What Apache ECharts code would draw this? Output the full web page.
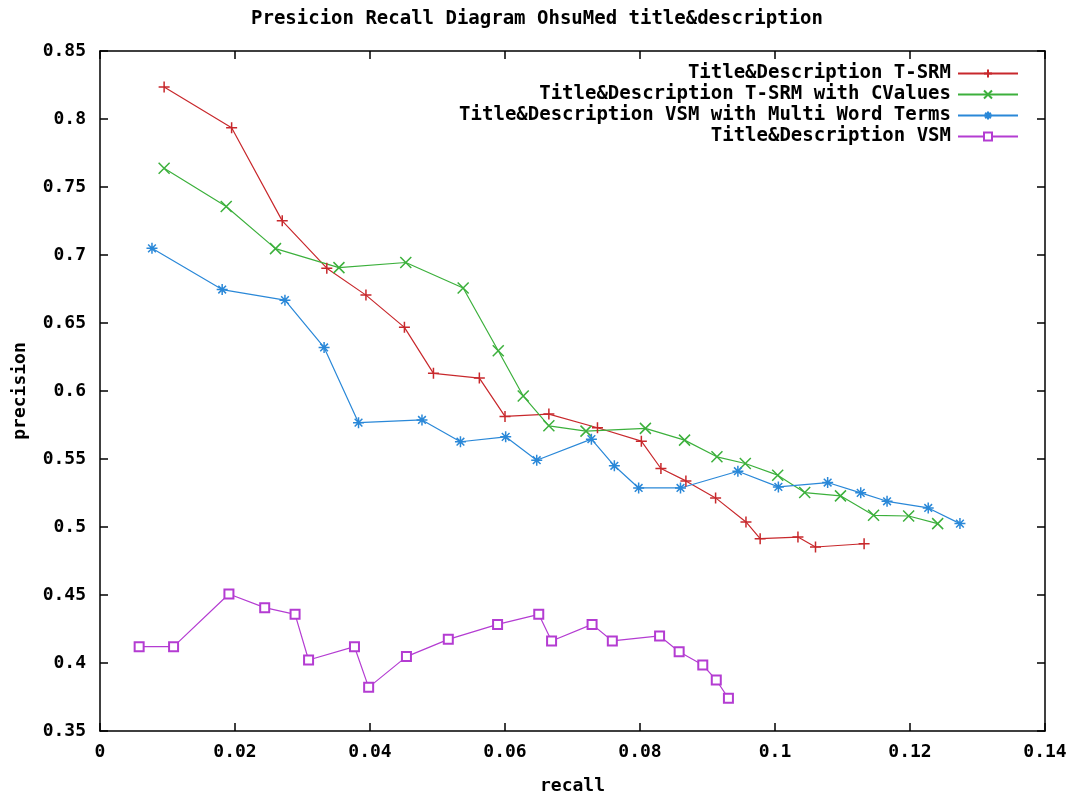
<!DOCTYPE html>
<html>
<head>
<meta charset="utf-8">
<script src="https://cdn.jsdelivr.net/npm/echarts@6/dist/echarts.min.js"></script>
<style>
  html, body { margin: 0; padding: 0; background: #fff; }
  #chart { width: 1074px; height: 801px; }
</style>
</head>
<body>
<div id="chart"></div>
<script>
const titleText = 'Presicion Recall Diagram OhsuMed title&description';
const seriesNames = [
  'Title&Description T-SRM',
  'Title&Description T-SRM with CValues',
  'Title&Description VSM with Multi Word Terms',
  'Title&Description VSM'
];

// [recall, precision]
const tsrm = [
  [0.0095, 0.8236], [0.0195, 0.7936], [0.027, 0.7251], [0.0336, 0.6903],
  [0.0394, 0.6705], [0.0451, 0.6468], [0.0494, 0.613], [0.0562, 0.6095],
  [0.060, 0.5813], [0.0665, 0.583], [0.0737, 0.573], [0.0802, 0.5631],
  [0.0831, 0.543], [0.0868, 0.5339], [0.0912, 0.5214], [0.0957, 0.5037],
  [0.0978, 0.4914], [0.1034, 0.4926], [0.106, 0.4853], [0.1132, 0.4877]
];
const tsrmCValues = [
  [0.0095, 0.7638], [0.0187, 0.7357], [0.026, 0.7047], [0.0354, 0.6907],
  [0.0453, 0.6945], [0.0538, 0.6757], [0.059, 0.6296], [0.0627, 0.5963],
  [0.0665, 0.5744], [0.072, 0.5705], [0.0808, 0.5725], [0.0866, 0.5639],
  [0.0914, 0.5516], [0.0956, 0.5467], [0.1004, 0.5381], [0.1044, 0.5253],
  [0.1097, 0.5229], [0.1146, 0.5086], [0.1198, 0.5081], [0.1241, 0.5025]
];
const vsmMultiWord = [
  [0.0077, 0.7049], [0.0181, 0.6746], [0.0274, 0.6668], [0.0332, 0.632],
  [0.0383, 0.5767], [0.0477, 0.5787], [0.0534, 0.5627], [0.0601, 0.5663],
  [0.0647, 0.5491], [0.0728, 0.5646], [0.0762, 0.545], [0.0798, 0.5287],
  [0.086, 0.5287], [0.0945, 0.541], [0.1005, 0.5295], [0.1078, 0.5327],
  [0.1127, 0.5251], [0.1166, 0.5189], [0.1227, 0.514], [0.1274, 0.5025]
];
const vsm = [
  [0.0058, 0.412], [0.0109, 0.412], [0.0191, 0.4507], [0.0244, 0.4407],
  [0.0289, 0.4358], [0.0309, 0.4022], [0.0377, 0.412], [0.0398, 0.3821],
  [0.0454, 0.4047], [0.0516, 0.4174], [0.0589, 0.4284], [0.065, 0.4358],
  [0.0669, 0.4162], [0.0729, 0.4284], [0.0759, 0.4162], [0.0829, 0.4199],
  [0.0858, 0.4083], [0.0893, 0.3985], [0.0913, 0.3875], [0.0931, 0.374]
];

const colors = ['#c8282c', '#3cb03c', '#2a88d8', '#b43cd2'];
const symbols = [
  'path://M5 0L5 10M0 5L10 5',
  'path://M0 0L10 10M10 0L0 10',
  'path://M5 0L5 10M0 5L10 5M1.5 1.5L8.5 8.5M8.5 1.5L1.5 8.5',
  'emptyRect'
];
const allData = [tsrm, tsrmCValues, vsmMultiWord, vsm];

const font = 'DejaVu Sans Mono';
const axisText = () => ({ color: '#000', fontFamily: font, fontWeight: 'bold', fontSize: 18 });

const chart = echarts.init(document.getElementById('chart'));

const series = allData.map((d, i) => ({
  name: seriesNames[i],
  type: 'line',
  data: d,
  symbol: symbols[i],
  symbolSize: i === 3 ? 9 : 11,
  showSymbol: true,
  lineStyle: { color: colors[i], width: 1.2 },
  itemStyle: i === 3
    ? { color: colors[i], borderColor: colors[i], borderWidth: 1.3 }
    : { color: 'transparent', borderColor: colors[i], borderWidth: 1.5 }
}));

// fresh objects per axis
const tickStyle = () => ({ show: true, inside: true, length: 8, lineStyle: { color: '#000', width: 1.5 } });
const frameLine = () => ({ show: true, onZero: false, lineStyle: { color: '#000', width: 1.5 } });

chart.setOption({
  animation: false,
  title: {
    text: titleText,
    left: 'center',
    top: 5,
    textStyle: { fontFamily: font, fontWeight: 'bold', fontSize: 19, color: '#000' }
  },
  legend: {
    orient: 'vertical',
    right: 50,
    top: 59,
    align: 'right',
    itemWidth: 60,
    itemHeight: 10,
    itemGap: 2,
    textStyle: { fontFamily: font, fontWeight: 'bold', fontSize: 19, color: '#000', padding: [0, 2, 0, 0] },
    data: seriesNames
  },
  grid: { left: 100, right: 29, top: 51, bottom: 70, outerBoundsMode: 'none' },
  xAxis: [{
    type: 'value',
    position: 'bottom',
    min: 0,
    max: 0.14,
    interval: 0.02,
    name: 'recall',
    nameLocation: 'middle',
    nameGap: 46,
    nameTextStyle: axisText(),
    axisLine: frameLine(),
    axisTick: tickStyle(),
    axisLabel: Object.assign({ margin: 12 }, axisText()),
    splitLine: { show: false }
  }, {
    type: 'value',
    position: 'top',
    min: 0,
    max: 0.14,
    interval: 0.02,
    axisLine: frameLine(),
    axisTick: tickStyle(),
    axisLabel: { show: false },
    splitLine: { show: false }
  }],
  yAxis: [{
    type: 'value',
    position: 'left',
    min: 0.35,
    max: 0.85,
    interval: 0.05,
    name: 'precision',
    nameLocation: 'middle',
    nameGap: 71,
    nameRotate: 90,
    nameTextStyle: axisText(),
    axisLine: frameLine(),
    axisTick: tickStyle(),
    axisLabel: Object.assign({ margin: 14 }, axisText()),
    splitLine: { show: false }
  }, {
    type: 'value',
    position: 'right',
    min: 0.35,
    max: 0.85,
    interval: 0.05,
    axisLine: frameLine(),
    axisTick: tickStyle(),
    axisLabel: { show: false },
    splitLine: { show: false }
  }],
  series
});
</script>
</body>
</html>
